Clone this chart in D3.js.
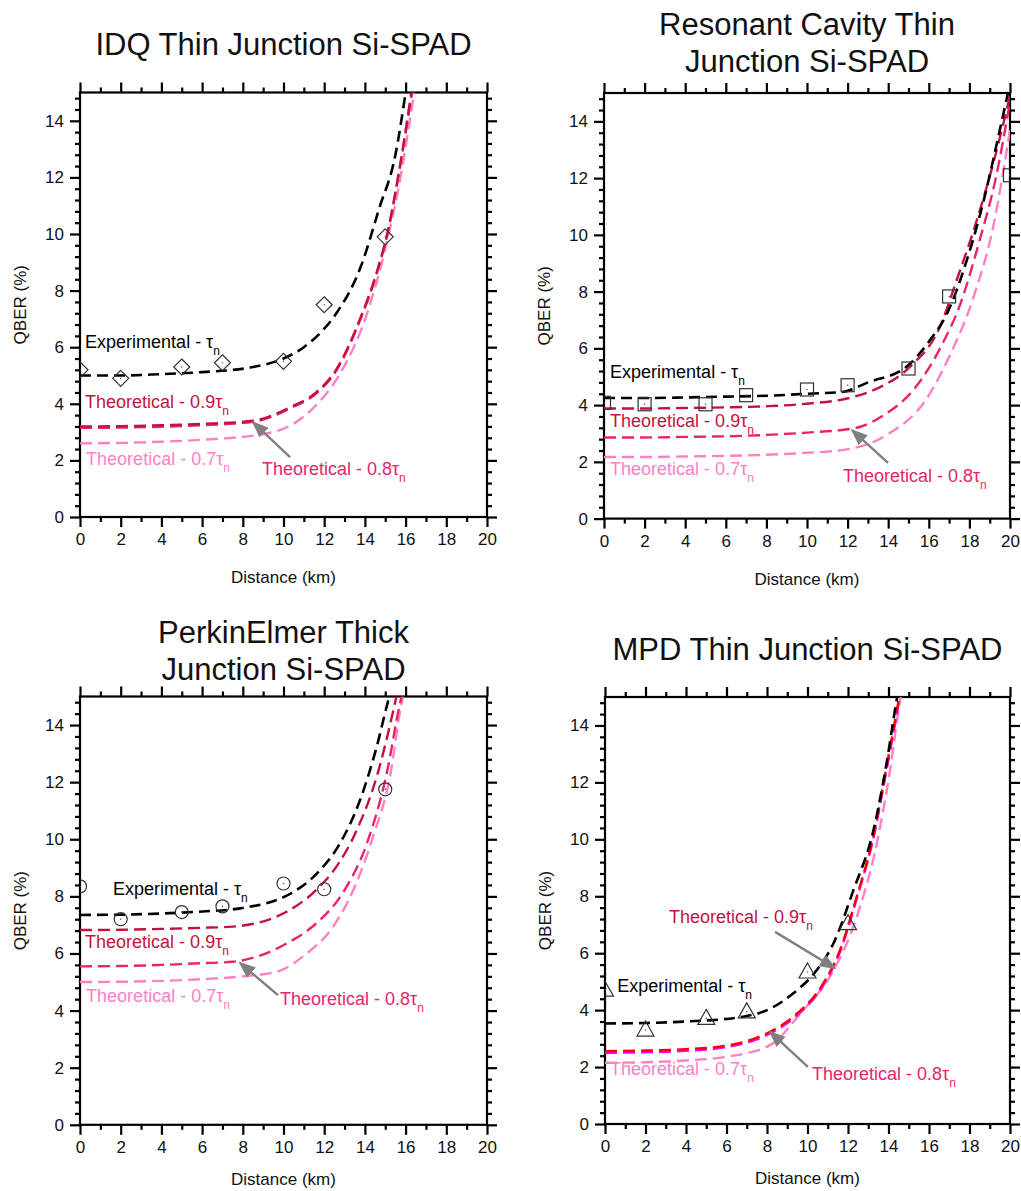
<!DOCTYPE html>
<html>
<head>
<meta charset="utf-8">
<script src="https://cdn.jsdelivr.net/npm/d3@7"></script>
<style>
  body { margin: 0; background: #fff; }
  svg { display: block; font-family: "Liberation Sans", Arial, sans-serif; }
  .tick text { font-size: 17px; fill: #111; }
  .tick line { stroke: #000; stroke-width: 2.2; }
</style>
</head>
<body>
<svg id="chart" width="1021" height="1191"></svg>
<script>
// ---- data (distance km, QBER %) ----
const idqExperimental = [[0,5.0],[2,5.0],[4,5.05],[6,5.12],[8.5,5.3],[10,5.6],[11,6.0],[11.8,6.5],[12.6,7.2],[13.8,8.85],[14.7,10.9],[15.5,12.8],[16,15]];
const idqTheory09 = [[0,3.2],[2,3.21],[4,3.24],[6,3.29],[8.5,3.4],[10.3,3.87],[11.6,4.4],[12.6,5.22],[13.76,7.0],[14.58,8.65],[15.14,10.15],[15.72,12.4],[16.28,15]];
const idqTheory08 = [[0,3.15],[2,3.16],[4,3.19],[6,3.24],[8.5,3.36],[10.3,3.83],[11.6,4.36],[12.6,5.18],[13.76,6.95],[14.58,8.6],[15.14,10.1],[15.72,12.35],[16.32,15]];
const idqTheory07 = [[0,2.6],[2,2.62],[4,2.66],[6,2.73],[9.17,2.95],[10.5,3.3],[11.6,3.95],[12.78,5.07],[14.1,7.18],[14.9,9.18],[15.72,11.9],[16.42,15]];
const idqMeasured = [[0,5.2],[2,4.9],[5,5.3],[7,5.45],[10,5.5],[12,7.5],[15,9.9]];

const rcExperimental = [[0,4.25],[2,4.25],[4,4.27],[6,4.3],[8,4.33],[10,4.4],[11.8,4.47],[13,4.8],[14.9,5.35],[16.06,6.29],[16.9,7.23],[17.87,9.1],[18.7,11.2],[19.5,13.7],[19.9,15]];
const rcTheory09 = [[0,3.88],[2,3.88],[4,3.9],[6,3.92],[8,3.96],[10,4.05],[12.3,4.29],[13.5,4.6],[15.07,5.35],[16.55,6.76],[17.37,8.4],[18.36,10.5],[19.3,12.86],[20,14.9]];
const rcTheory08 = [[0,2.86],[2,2.86],[4,2.88],[6,2.9],[8,2.95],[10,3.03],[12.3,3.18],[13.9,3.7],[15.2,4.5],[16.7,6.2],[17.5,7.46],[18.5,9.8],[19.3,12.0],[20,14.7]];
const rcTheory07 = [[0,2.17],[2,2.17],[4,2.19],[6,2.21],[8,2.25],[10,2.32],[11.8,2.42],[14.05,3.0],[15.85,4.18],[17.0,5.7],[18.2,7.8],[19.17,10.28],[20,13.7]];
const rcMeasured = [[0,4.08],[2,4.03],[5,4.03],[7,4.35],[10,4.55],[12,4.7],[15,5.29],[17,7.83],[20,12.1]];

const peExperimental = [[0,7.35],[2,7.36],[4,7.4],[6,7.47],[7.86,7.58],[10.5,8.16],[11.8,8.92],[12.78,9.86],[13.76,11.37],[14.58,13.24],[15.15,14.87],[15.2,15]];
const peTheory09 = [[0,6.82],[2,6.83],[4,6.86],[6,6.9],[7.5,6.94],[10.15,7.46],[11.6,8.22],[12.6,9.04],[13.6,10.32],[14.58,12.19],[15.4,14.52],[15.55,15]];
const peTheory08 = [[0,5.55],[2,5.56],[4,5.6],[6,5.66],[7.5,5.71],[10.15,6.35],[11.6,7.05],[13.0,8.22],[14.1,9.86],[15.07,12.3],[15.72,14.75],[15.8,15]];
const peTheory07 = [[0,5.0],[2,5.01],[4,5.04],[6,5.1],[8,5.2],[9.66,5.36],[11.14,6.0],[12.44,6.94],[13.43,8.22],[14.4,10.09],[15.23,12.19],[15.8,14.75],[15.88,15]];
const peMeasured = [[0,8.35],[2,7.2],[5,7.45],[7,7.65],[10,8.45],[12,8.25],[15,11.75]];

const mpdExperimental = [[0,3.53],[2,3.55],[4,3.6],[6.83,3.77],[8,4.0],[9.3,4.59],[10.45,5.4],[11.28,6.34],[12.26,8.2],[13.25,10.3],[13.9,12.65],[14.4,14.88],[14.43,15]];
const mpdTheory09 = [[0,2.56],[2,2.58],[4,2.63],[6,2.75],[7.98,3.18],[9.3,3.77],[10.78,4.94],[11.6,6.1],[12.43,7.98],[13.25,10.1],[13.9,12.54],[14.5,14.88],[14.53,15]];
const mpdTheory08 = [[0,2.5],[2,2.52],[4,2.57],[6,2.7],[7.98,3.12],[9.3,3.71],[10.78,4.88],[11.6,6.04],[12.43,7.92],[13.25,10.03],[13.92,12.5],[14.53,14.88],[14.56,15]];
const mpdTheory07 = [[0,2.15],[2,2.17],[4,2.23],[6,2.36],[8.15,2.77],[9.79,4.0],[11.1,5.17],[12.43,7.27],[13.42,9.85],[14.07,12.4],[14.57,14.88],[14.6,15]];
const mpdMeasured = [[0,4.7],[2,3.3],[5,3.71],[7,3.94],[10,5.34],[12,7.04]];

const xMajorTicks = [0,2,4,6,8,10,12,14,16,18,20];
const yMajorTicks = [0,2,4,6,8,10,12,14];

// ---- layout ----
const svg = d3.select('#chart');
const colors = { exp: '#000', t09: '#c5123c', t08: '#e8246c', t07: '#ff80c4' };

const panels = [
  { id: 'idq', title: ['IDQ Thin Junction Si-SPAD'], titleY: 55, box: [80, 487, 517, 92.5], xLabelGap: 66,
    marker: 'diamond', measured: idqMeasured,
    curves: [[idqTheory07, colors.t07], [idqTheory08, colors.t08], [idqTheory09, colors.t09], [idqExperimental, colors.exp]],
    labels: [
      { text: 'Experimental - τ', x: 0.25, y: 5.96, c: colors.exp },
      { text: 'Theoretical - 0.9τ', x: 0.25, y: 3.84, c: colors.t09 },
      { text: 'Theoretical - 0.7τ', x: 0.3, y: 1.83, c: colors.t07 },
      { text: 'Theoretical - 0.8τ', x: 8.94, y: 1.48, c: colors.t08 }],
    arrows: [[10.32, 2.12, 8.5, 3.35]] },
  { id: 'rc', title: ['Resonant Cavity Thin', 'Junction Si-SPAD'], titleY: 35, box: [604, 1010, 518.6, 93], xLabelGap: 66,
    marker: 'square', measured: rcMeasured,
    curves: [[rcTheory07, colors.t07], [rcTheory08, colors.t08], [rcTheory09, colors.t09], [rcExperimental, colors.exp]],
    labels: [
      { text: 'Experimental - τ', x: 0.3, y: 4.96, c: colors.exp },
      { text: 'Theoretical - 0.9τ', x: 0.3, y: 3.24, c: colors.t09 },
      { text: 'Theoretical - 0.7τ', x: 0.3, y: 1.54, c: colors.t07 },
      { text: 'Theoretical - 0.8τ', x: 11.77, y: 1.3, c: colors.t08 }],
    arrows: [[13.99, 1.96, 12.22, 3.12]] },
  { id: 'pe', title: ['PerkinElmer Thick', 'Junction Si-SPAD'], titleY: 643, box: [80, 487, 1124.8, 696.5], xLabelGap: 60,
    marker: 'circle', measured: peMeasured,
    curves: [[peTheory07, colors.t07], [peTheory08, colors.t08], [peTheory09, colors.t09], [peExperimental, colors.exp]],
    labels: [
      { text: 'Experimental - τ', x: 1.62, y: 8.05, c: colors.exp },
      { text: 'Theoretical - 0.9τ', x: 0.25, y: 6.19, c: colors.t09 },
      { text: 'Theoretical - 0.7τ', x: 0.3, y: 4.3, c: colors.t07 },
      { text: 'Theoretical - 0.8τ', x: 9.83, y: 4.19, c: colors.t08 }],
    arrows: [[9.73, 4.54, 7.86, 5.67]] },
  { id: 'mpd', title: ['MPD Thin Junction Si-SPAD'], titleY: 660, box: [605, 1010, 1124, 697], xLabelGap: 60,
    marker: 'triangle', measured: mpdMeasured,
    curves: [[mpdTheory07, colors.t07], [mpdTheory08, '#ff00ff'], [mpdTheory09, '#ff0000'], [mpdExperimental, colors.exp]],
    labels: [
      { text: 'Experimental - τ', x: 0.6, y: 4.65, c: colors.exp },
      { text: 'Theoretical - 0.9τ', x: 3.16, y: 7.07, c: colors.t09 },
      { text: 'Theoretical - 0.7τ', x: 0.25, y: 1.72, c: colors.t07 },
      { text: 'Theoretical - 0.8τ', x: 10.22, y: 1.55, c: colors.t08 }],
    arrows: [[8.4, 6.75, 11.36, 5.47], [10.02, 2.01, 8.15, 3.24]] }
];

const defs = svg.append('defs');
defs.append('marker')
  .attr('id', 'arrowHead')
  .attr('viewBox', '0 0 10 8')
  .attr('refX', 9).attr('refY', 4)
  .attr('markerWidth', 7).attr('markerHeight', 5.6)
  .attr('markerUnits', 'strokeWidth')
  .attr('orient', 'auto')
  .append('path')
  .attr('d', 'M0,0L10,4L0,8Z')
  .attr('fill', '#808080');

const symbols = {
  diamond: (g) => g.append('path').attr('d', 'M0,-8L8,0L0,8L-8,0Z'),
  square: (g) => g.append('rect').attr('x', -6.5).attr('y', -6.5).attr('width', 13).attr('height', 13),
  circle: (g) => g.append('circle').attr('r', 6.5),
  triangle: (g) => g.append('path').attr('d', 'M0,-9L8.5,6L-8.5,6Z')
};

panels.forEach(p => {
  const [left, right, bottom, top] = p.box;
  const x = d3.scaleLinear().domain([0, 20]).range([left, right]);
  const y = d3.scaleLinear().domain([0, 15]).range([bottom, top]);
  const g = svg.append('g').attr('class', 'panel-' + p.id);

  defs.append('clipPath').attr('id', 'clip-' + p.id)
    .append('rect')
    .attr('x', left).attr('y', top)
    .attr('width', right - left).attr('height', bottom - top);

  // title
  const title = g.append('text')
    .attr('x', (left + right) / 2)
    .attr('y', p.titleY)
    .attr('text-anchor', 'middle')
    .style('font-size', '31px')
    .style('fill', '#111');
  p.title.forEach((line, i) => {
    title.append('tspan').attr('x', (left + right) / 2).attr('dy', i === 0 ? 0 : 37).text(line);
  });

  // axes: major + minor ticks on all four sides, pointing out
  const minorX = d3.range(1, 20, 2);
  const minorY = d3.range(0, 15.01, 0.4).filter(v => Math.abs(v / 2 - Math.round(v / 2)) > 1e-6);

  const addAxis = (axisFn, scale, major, minor, transform, labels) => {
    g.append('g').attr('transform', transform)
      .call(axisFn(scale).tickValues(minor).tickSize(5).tickFormat(''))
      .call(a => a.select('.domain').remove());
    g.append('g').attr('transform', transform)
      .call(axisFn(scale).tickValues(major).tickSize(10).tickPadding(6).tickFormat(labels ? d3.format('d') : ''))
      .call(a => a.select('.domain').remove());
  };
  addAxis(d3.axisBottom, x, xMajorTicks, minorX, `translate(0,${bottom})`, true);
  addAxis(d3.axisTop, x, xMajorTicks, minorX, `translate(0,${top})`, false);
  addAxis(d3.axisLeft, y, yMajorTicks, minorY, `translate(${left},0)`, true);
  addAxis(d3.axisRight, y, yMajorTicks, minorY, `translate(${right},0)`, false);

  g.append('rect')
    .attr('x', left).attr('y', top)
    .attr('width', right - left).attr('height', bottom - top)
    .attr('fill', 'none').attr('stroke', '#000').attr('stroke-width', 2.2);

  g.append('text')
    .attr('x', (left + right) / 2).attr('y', bottom + p.xLabelGap)
    .attr('text-anchor', 'middle')
    .style('font-size', '17px').style('fill', '#111')
    .text('Distance (km)');

  g.append('text')
    .attr('transform', `translate(${left - 54},${(top + bottom) / 2}) rotate(-90)`)
    .attr('text-anchor', 'middle')
    .style('font-size', '17px').style('fill', '#111')
    .text('QBER (%)');

  const plot = g.append('g').attr('clip-path', `url(#clip-${p.id})`);
  const line = d3.line().x(d => x(d[0])).y(d => y(d[1])).curve(d3.curveMonotoneX);

  p.curves.forEach(([data, color]) => {
    plot.append('path')
      .datum(data)
      .attr('d', line)
      .attr('fill', 'none')
      .attr('stroke', color)
      .attr('stroke-width', color === '#000' ? 2.6 : 2.4)
      .attr('stroke-dasharray', color === '#000' ? '11,6' : '12,6');
  });

  const pts = plot.selectAll('.pt')
    .data(p.measured)
    .join('g')
    .attr('class', 'pt')
    .attr('transform', d => `translate(${x(d[0])},${y(d[1])})`);
  pts.each(function () {
    symbols[p.marker](d3.select(this))
      .attr('fill', 'none').attr('stroke', '#333').attr('stroke-width', 1.2);
    d3.select(this).append('circle').attr('r', 0.8).attr('fill', '#666');
  });

  p.arrows.forEach(a => {
    g.append('line')
      .attr('x1', x(a[0])).attr('y1', y(a[1]))
      .attr('x2', x(a[2])).attr('y2', y(a[3]))
      .attr('stroke', '#808080').attr('stroke-width', 2.4)
      .attr('marker-end', 'url(#arrowHead)');
  });

  p.labels.forEach(l => {
    const t = g.append('text')
      .attr('x', x(l.x)).attr('y', y(l.y))
      .style('font-size', '18px')
      .style('fill', l.c);
    t.append('tspan').text(l.text);
    t.append('tspan').attr('dy', 7).style('font-size', '12px').text('n');
  });
});
</script>
</body>
</html>
